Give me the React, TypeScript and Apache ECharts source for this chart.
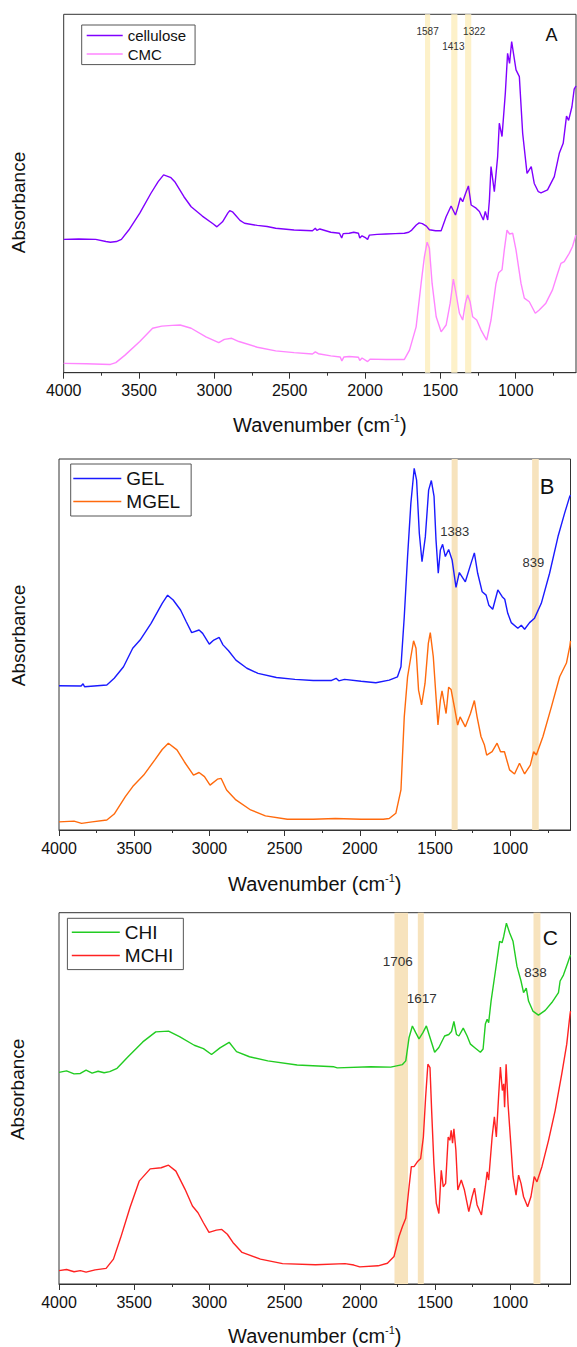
import React, { useEffect, useRef } from 'react';
import * as echarts from 'echarts';

const FONT = '"Liberation Sans", Arial, Helvetica, sans-serif';

// Tick values (wavenumber, cm-1)
const majorTicks = [4000, 3500, 3000, 2500, 2000, 1500, 1000];
const minorTicks = [3750, 3250, 2750, 2250, 1750, 1250, 750];

// Panel A
const celluloseData = [
  [4000, 37.2], [3900, 37.3], [3788, 37.2], [3720, 36.6], [3690, 36.4], [3650, 36.6], [3617, 37.2],
  [3568, 39.8], [3495, 44.5], [3422, 50], [3373, 53.3], [3337, 55.2], [3310, 54.8], [3288, 54.4],
  [3263, 53.3], [3202, 49.1], [3154, 46.3], [3080, 43.7], [3007, 41.5], [2983, 40.7], [2946, 42.1],
  [2910, 44.6], [2898, 45.2], [2880, 44.9], [2861, 44], [2830, 42.5], [2800, 41.7], [2715, 41.1],
  [2650, 40.8], [2593, 40.3], [2471, 39.8], [2349, 39.6], [2330, 40.3], [2320, 39.7], [2300, 40.1],
  [2227, 39.2], [2170, 38.9], [2155, 37.6], [2145, 38.8], [2105, 38.9], [2075, 39.2], [2044, 38.9],
  [2035, 37.6], [2020, 38.2], [1995, 37.6], [1983, 37.2], [1971, 38.4], [1920, 38.6], [1861, 38.7],
  [1800, 38.8], [1739, 38.9], [1710, 39.2], [1690, 39.8], [1660, 41.2], [1641, 41.8], [1620, 41.6],
  [1593, 40.9], [1573, 39.9], [1532, 39.6], [1495, 39.6], [1462, 43.5], [1429, 46.5], [1400, 44],
  [1385, 46], [1367, 48.8], [1352, 47.7], [1333, 50], [1314, 52.1], [1296, 46.8], [1263, 45.9],
  [1241, 45], [1215, 42.6], [1202, 45], [1186, 42.6], [1175, 48], [1164, 57.5], [1142, 50.5],
  [1120, 60.3], [1109, 69.6], [1091, 65.9], [1069, 78], [1054, 89.1], [1041, 86.3], [1027, 92.4],
  [998, 84.5], [976, 82.6], [954, 66.8], [925, 55.6], [897, 57.5], [877, 52.8], [850, 50.5],
  [832, 50.2], [789, 51], [744, 54.7], [711, 61.2], [685, 64], [663, 71.6], [649, 70.4], [627, 74.2],
  [612, 79.1], [600, 80],
];
const cmcData = [
  [4000, 2.6], [3850, 2.5], [3690, 2.3], [3654, 2.8], [3593, 4.9], [3495, 8.7], [3410, 12.4],
  [3349, 13], [3280, 13.2], [3227, 13.3], [3154, 12.4], [3056, 10], [2971, 8.4], [2934, 9.3],
  [2885, 9.6], [2837, 8.7], [2715, 7.1], [2593, 6.1], [2471, 5.6], [2349, 5.2], [2330, 5.8],
  [2310, 5.3], [2227, 4.7], [2165, 4.4], [2154, 3.3], [2140, 4.4], [2105, 4.5], [2044, 4.3],
  [2035, 3.4], [2020, 4.1], [1983, 3.1], [1965, 3.8], [1861, 3.7], [1739, 3.7], [1705, 6.3],
  [1661, 12.8], [1628, 24.9], [1606, 32.4], [1588, 36.4], [1573, 34.7], [1555, 24.9], [1528, 15.6],
  [1495, 11.4], [1462, 13.3], [1435, 19.4], [1414, 26.1], [1396, 22.1], [1374, 16.6], [1352, 14.7],
  [1334, 19.4], [1319, 21.7], [1303, 19.8], [1286, 15.6], [1259, 14.7], [1230, 11.9], [1193, 9.1],
  [1164, 14.7], [1131, 24.9], [1113, 27.9], [1091, 28.7], [1076, 34.2], [1058, 39.8], [1041, 38.7],
  [1020, 38.9], [998, 34.2], [965, 24.9], [943, 20.8], [910, 19.8], [870, 16.6], [844, 17.5],
  [800, 19.4], [756, 23.1], [722, 27.7], [700, 30.5], [678, 31], [645, 33.3], [623, 35.2], [601, 38.4],
];
const bandsA = [[1602, 1568], [1428, 1387], [1336, 1295]];
const bandLabelsA = ['1587', '1413', '1322'];

// Panel B
const gelData = [
  [4000, 38.9], [3853, 38.8], [3840, 39.4], [3830, 38.6], [3682, 39.1], [3633, 40.9], [3571, 44],
  [3510, 49], [3461, 51.2], [3388, 55.7], [3314, 61.1], [3278, 63.3], [3241, 62], [3192, 59.3],
  [3155, 56.2], [3118, 53.2], [3069, 53.9], [3045, 53], [3001, 50.1], [2971, 51.2], [2935, 51.9],
  [2910, 49.9], [2873, 48.3], [2824, 45.8], [2751, 43.6], [2677, 42.2], [2555, 41.1], [2432, 40.6],
  [2310, 40.3], [2188, 40.3], [2158, 40.9], [2140, 40.2], [2102, 40.6], [1992, 40.1], [1894, 39.7],
  [1805, 40.4], [1750, 41.3], [1727, 44], [1705, 57.5], [1683, 73.7], [1661, 88.1], [1639, 97.5],
  [1623, 94.3], [1605, 80], [1587, 72.3], [1565, 79], [1543, 91.6], [1525, 94.2], [1507, 89.9],
  [1494, 78.2], [1479, 69.2], [1465, 75.5], [1450, 77], [1432, 73.7], [1410, 75.6], [1387, 72.8],
  [1361, 65.4], [1339, 69.4], [1299, 66.9], [1265, 71.4], [1239, 74.7], [1217, 69.2], [1187, 64.2],
  [1161, 63.3], [1143, 60.6], [1117, 59.5], [1083, 64.7], [1054, 62.9], [1037, 62.2], [1017, 58.4],
  [994, 55.9], [950, 54.4], [927, 55.2], [905, 54.1], [872, 55.9], [839, 57.1], [794, 61.1],
  [739, 69.2], [683, 79.1], [639, 85.4], [606, 89.8], [600, 90.3],
];
const mgelData = [
  [4000, 2.2], [3900, 2.4], [3850, 1.8], [3780, 2.2], [3682, 2.7], [3633, 4.3], [3559, 9],
  [3510, 11.7], [3437, 14.8], [3363, 18.9], [3314, 21.7], [3273, 23.4], [3216, 21.6], [3167, 18.4],
  [3106, 14.8], [3069, 15.5], [3033, 14.4], [2996, 12.1], [2947, 13.7], [2922, 13.9], [2886, 10.8],
  [2824, 8.1], [2726, 5.4], [2628, 3.8], [2482, 2.9], [2310, 2.9], [2163, 3.1], [1992, 2.9],
  [1845, 2.9], [1805, 3.1], [1761, 4.5], [1727, 10.8], [1705, 30.5], [1683, 41.3], [1661, 46.7],
  [1643, 51], [1627, 49], [1610, 37.7], [1590, 33.7], [1567, 39.5], [1545, 50.3], [1532, 53.2],
  [1512, 46.7], [1494, 35.9], [1481, 28.3], [1465, 35], [1454, 37.5], [1439, 34.1], [1427, 31.4],
  [1410, 38.5], [1394, 37.9], [1372, 33.2], [1350, 28.3], [1334, 30.5], [1299, 27.8], [1265, 31.4],
  [1239, 34.9], [1221, 30.5], [1195, 25.2], [1172, 22.9], [1157, 20.2], [1121, 21.1], [1088, 23.4],
  [1065, 21.1], [1039, 21.1], [1005, 16.2], [972, 15.1], [939, 18], [905, 15.1], [867, 17.5],
  [845, 21.1], [827, 20.2], [783, 25.2], [727, 33.2], [672, 41.3], [627, 45], [605, 49.4], [600, 51],
];
const bandsB = [[1390, 1350], [855, 811]];
const bandLabelsB = ['1383', '839'];

// Panel C
const chiData = [
  [4000, 57], [3950, 57.4], [3900, 56.6], [3858, 56.7], [3820, 57.6], [3780, 56.8], [3740, 57.3],
  [3700, 56.9], [3663, 57.2], [3614, 58.1], [3541, 61.2], [3443, 65.2], [3357, 67.9], [3272, 68.1],
  [3199, 66.6], [3101, 64.3], [3040, 63.4], [2986, 61.8], [2930, 63.6], [2869, 65.1], [2820, 62.6],
  [2734, 61.2], [2612, 60.1], [2417, 59], [2172, 58.5], [2150, 58.2], [1928, 58.5], [1795, 58.4],
  [1717, 59.1], [1695, 60.1], [1673, 66.4], [1651, 69.5], [1629, 67.7], [1607, 66], [1581, 67.7],
  [1558, 69.5], [1534, 66.4], [1503, 62.4], [1475, 63.7], [1437, 66.8], [1409, 67.2], [1391, 68],
  [1375, 70.7], [1358, 67.2], [1342, 66.8], [1313, 68.9], [1287, 66.8], [1265, 64.6], [1232, 63.5],
  [1199, 62.4], [1181, 63.3], [1166, 70], [1154, 71.3], [1144, 70.4], [1128, 76.2], [1099, 84.3],
  [1071, 92.3], [1055, 91.9], [1044, 93.6], [1026, 97.2], [1005, 94.6], [982, 92.3], [956, 85.6],
  [929, 81.6], [912, 78.5], [894, 79.7], [879, 76.2], [850, 73.5], [813, 72.4], [768, 73.7],
  [724, 75.8], [680, 78.5], [669, 81.6], [647, 83.2], [618, 86.5], [603, 88.3], [600, 88.6],
];
const mchiData = [
  [4000, 3.6], [3950, 3.9], [3900, 3.3], [3858, 3.6], [3820, 3.2], [3760, 3.8], [3687, 4.2],
  [3638, 6.7], [3590, 12.5], [3528, 20.6], [3467, 27.7], [3394, 31], [3321, 31.3], [3272, 32],
  [3223, 30.4], [3162, 25.5], [3113, 21], [3076, 19.2], [3040, 16.5], [3003, 13.9], [2954, 14.5],
  [2918, 14.7], [2881, 13.4], [2844, 11.2], [2783, 8.5], [2661, 6.7], [2514, 5.5], [2295, 5.2],
  [2099, 5.5], [2040, 5.1], [2001, 4.6], [1879, 4.9], [1817, 5.6], [1773, 7.4], [1740, 12.8],
  [1717, 15.5], [1695, 17.7], [1673, 26.2], [1658, 31.6], [1640, 31.6], [1618, 32.9], [1596, 33.8],
  [1578, 39.6], [1563, 50.3], [1548, 59.2], [1534, 58.3], [1523, 46.7], [1508, 32.4], [1492, 21.7],
  [1475, 19], [1459, 30.6], [1446, 26.2], [1430, 27.1], [1413, 39.6], [1402, 38.7], [1393, 41.4],
  [1384, 37.9], [1375, 41.8], [1362, 36.1], [1349, 25.3], [1326, 28], [1305, 25.3], [1276, 19.5],
  [1254, 23.5], [1238, 25.8], [1221, 21.3], [1192, 18.6], [1166, 26.2], [1154, 30.2], [1144, 28],
  [1121, 39.6], [1106, 45], [1093, 39.6], [1077, 51.2], [1066, 58.4], [1053, 52.1], [1044, 53.9],
  [1038, 47.6], [1028, 59.2], [1015, 48.4], [1000, 39.6], [982, 28.9], [962, 23.9], [945, 29.3],
  [929, 27.1], [912, 23.5], [885, 20.8], [863, 23.5], [841, 28.9], [823, 27.5], [790, 31.6],
  [746, 38.7], [702, 46.7], [658, 56.6], [625, 64.6], [603, 72.7], [600, 73.5],
];
const bandsC = [[1770, 1680], [1615, 1575], [846, 800]];
const bandLabelsC = ['1706', '1617', '838'];

// ---------- layout / style ----------
const grids = [
  { left: 63.7, top: 14.3, width: 512.3, height: 358.4 },
  { left: 59, top: 459, width: 511.5, height: 371 },
  { left: 56, top: 912.7, width: 514.5, height: 373.6 },
];
const xNameGaps = [40, 42, 40];
const yNameGaps = [36, 31.5, 32];
const yNamePadding = [[0, 18, 0, 0], [0, 0, 0, 18], [0, 0, 0, 18]];
const bandColors = ['#fdf1c9', '#f7e3bd', '#f7e3bd'];
const labelFont = [10, 13, 13.5];
const labelOffsets = [
  [[0, 12], [-1, 27.4], [6, 12]],
  [[0, 66], [-2, 97]],
  [[-3.5, 42], [1, 79], [-1.5, 53]],
];
const legendLayout = [
  { left: 81.7, top: 25, itemWidth: 36, fontSize: 15, padding: [3, 9, 3, 5], gap: 3.6 },
  { left: 70.7, top: 464, itemWidth: 48, fontSize: 19, padding: [5, 11, 5, 2.6], gap: 4 },
  { left: 67.4, top: 918.3, itemWidth: 48, fontSize: 19, padding: [4.5, 10, 4.5, 4.4], gap: 4.3 },
];
const letters = [
  { text: 'A', x: 551.5, y: 35, size: 18 },
  { text: 'B', x: 547, y: 486.5, size: 22 },
  { text: 'C', x: 550.3, y: 937.5, size: 21 },
];

function buildAxes() {
  const xAxis: any[] = [];
  const yAxis: any[] = [];
  grids.forEach((_, i) => {
    xAxis.push({
      type: 'value', gridIndex: i, min: 600, max: 4000, inverse: true, position: 'bottom', offset: 0,
      name: '{a|Wavenumber (cm}{s|-1}{a|)}', nameLocation: 'middle', nameGap: xNameGaps[i],
      nameTextStyle: {
        rich: {
          a: { fontSize: 20, fontFamily: FONT, color: '#111', lineHeight: 24 },
          s: { fontSize: 11, fontFamily: FONT, color: '#111', verticalAlign: 'top', lineHeight: 12 },
        },
      },
      axisLine: { show: true, onZero: false, lineStyle: { color: '#333', width: 1 } },
      axisTick: { show: true, length: 6, inside: false, customValues: majorTicks, lineStyle: { color: '#333', width: 1 } },
      axisLabel: {
        show: true, customValues: majorTicks, fontSize: 16, fontFamily: FONT, color: '#111', margin: 10,
        formatter: (v: number) => String(v),
      },
      splitLine: { show: false },
    });
    xAxis.push({
      type: 'value', gridIndex: i, min: 600, max: 4000, inverse: true, position: 'bottom', offset: 0,
      axisLine: { show: false },
      axisTick: { show: true, length: 3, inside: false, customValues: minorTicks, lineStyle: { color: '#333', width: 1 } },
      axisLabel: { show: false },
      splitLine: { show: false },
    });
    yAxis.push({
      type: 'value', gridIndex: i, min: 0, max: 100,
      name: 'Absorbance', nameLocation: 'middle', nameGap: yNameGaps[i], nameRotate: 90,
      nameTextStyle: { fontSize: 19, fontFamily: FONT, color: '#111', padding: yNamePadding[i] },
      axisLine: { show: false }, axisTick: { show: false }, axisLabel: { show: false }, splitLine: { show: false },
    });
  });
  return { xAxis, yAxis };
}

function bandArea(panel: number, bands: number[][], labels: string[]) {
  return {
    silent: true,
    itemStyle: { color: bandColors[panel], opacity: 1 },
    data: bands.map((b, k) => [
      {
        xAxis: b[0], name: labels[k],
        label: {
          show: true, position: 'insideTop', distance: 0, offset: labelOffsets[panel][k],
          fontSize: labelFont[panel], fontFamily: FONT, color: '#333',
        },
      },
      { xAxis: b[1] },
    ]),
  };
}

function line(name: string, data: number[][], panel: number, color: string, mark?: any) {
  const s: any = {
    type: 'line', name, data, xAxisIndex: panel * 2, yAxisIndex: panel,
    symbol: 'none', showSymbol: false, silent: true, z: 3,
    lineStyle: { color, width: 1.4 }, itemStyle: { color },
  };
  if (mark) s.markArea = mark;
  return s;
}

export default function App() {
  const ref = useRef<HTMLDivElement>(null);
  useEffect(() => {
    const chart = echarts.init(ref.current!, null, { renderer: 'svg' });
    const { xAxis, yAxis } = buildAxes();
    const legendNames = [['cellulose', 'CMC'], ['GEL', 'MGEL'], ['CHI', 'MCHI']];
    const option: any = {
      animation: false,
      backgroundColor: '#fff',
      grid: grids.map((g) => ({ ...g, show: true, borderColor: '#333', borderWidth: 1, backgroundColor: 'transparent' })),
      xAxis, yAxis,
      legend: legendLayout.map((l, i) => ({
        data: legendNames[i], orient: 'vertical', left: l.left, top: l.top,
        icon: 'rect', itemWidth: l.itemWidth, itemHeight: 1.5, itemGap: l.gap, padding: l.padding,
        borderColor: '#555', borderWidth: 1, borderRadius: 0, selectedMode: false,
        textStyle: { fontSize: l.fontSize, fontFamily: FONT, color: '#111' },
      })),
      graphic: letters.map((t) => ({
        type: 'text', x: t.x, y: t.y,
        style: { text: t.text, font: `${t.size}px ${FONT}`, fill: '#111', textAlign: 'center', textVerticalAlign: 'middle' },
      })),
      series: [
        line('cellulose', celluloseData, 0, '#8000ff', bandArea(0, bandsA, bandLabelsA)),
        line('CMC', cmcData, 0, '#ff85ff'),
        line('GEL', gelData, 1, '#1a1aff', bandArea(1, bandsB, bandLabelsB)),
        line('MGEL', mgelData, 1, '#ff6a0d'),
        line('CHI', chiData, 2, '#22cc22', bandArea(2, bandsC, bandLabelsC)),
        line('MCHI', mchiData, 2, '#ff2222'),
      ],
    };
    chart.setOption(option);
    return () => chart.dispose();
  }, []);
  return (
    <div
      ref={ref}
      style={{ position: 'absolute', left: 0, top: 0, width: 577, height: 1347, background: '#fff' }}
    />
  );
}
